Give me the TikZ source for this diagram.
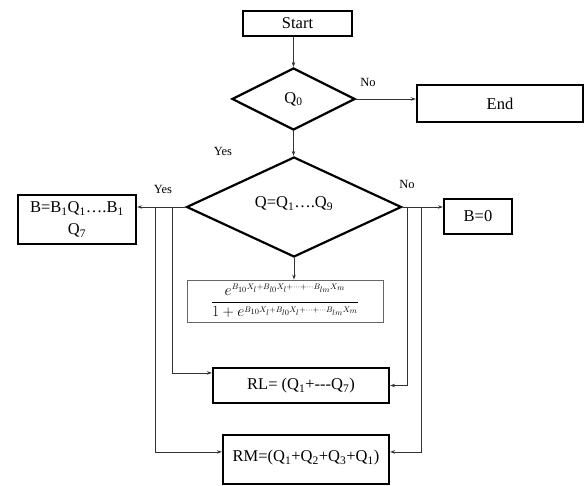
\documentclass[tikz,border=0pt]{standalone}
\usepackage{fontspec}
\usepackage{amsmath}
\setmainfont{Liberation Serif}
\usetikzlibrary{shapes.geometric,arrows.meta}
\newcommand{\ix}[1]{\textsubscript{#1}}
\newcommand{\lexp}{\scriptscriptstyle B_{10}X_l+B_{l0}X_l+\dots+\cdots B_{lm}X_m}
\begin{document}
\begin{tikzpicture}[x=1pt,y=-1pt,
  box/.style={draw=black, line width=2.2pt, inner sep=0pt,
    font=\fontsize{16.5}{21}\selectfont},
  decision/.style={diamond, draw=black, line width=2.2pt, inner sep=0pt,
    font=\fontsize{16.5}{21}\selectfont},
  conn/.style={draw=black!80, line width=0.8pt},
  arr/.style={conn, -{Stealth[length=5pt,width=3.5pt]}},
  lbl/.style={font=\fontsize{12.5}{15}\selectfont, inner sep=0pt}]
\useasboundingbox (0,0) rectangle (585,486);

% boxes
\node[box, minimum width=109pt, minimum height=25pt] (start) at (297.5,23.5) {Start};
\node[box, minimum width=166pt, minimum height=37pt] (end) at (500,103.5) {End};
\node[box, minimum width=118pt, minimum height=49pt, align=center] (bset) at (77,219.5)
  {B=B\ix{1}Q\ix{1}….B\ix{1}\\[1pt]Q\ix{7}};
\node[box, minimum width=68pt, minimum height=35pt] (bzero) at (478,216.5) {B=0};
\node[draw=black!60, line width=0.8pt, inner sep=0pt, minimum width=196pt, minimum height=42pt] (logit) at (285,301)
  {\resizebox{148pt}{!}{\fontsize{18}{20}\selectfont$\dfrac{e^{\lexp}}{1+e^{\lexp}}$}};
\node[box, minimum width=176pt, minimum height=35pt] (rl) at (301,385.5) {RL= (Q\ix{1}+-{}-{}-Q\ix{7})};
\node[box, minimum width=166pt, minimum height=49pt] (rm) at (306,459.5)
  {\raisebox{7pt}{RM=(Q\ix{1}+Q\ix{2}+Q\ix{3}+Q\ix{1})}};

% decisions
\node[decision, minimum width=123pt, minimum height=62pt] (q0) at (293.5,99) {Q\ix{0}};
\node[decision, minimum width=215pt, minimum height=100pt] (qq) at (294,207)
  {\raisebox{10pt}{Q=Q\ix{1}….Q\ix{9}}};

% branch points on the side lines
\coordinate (jl1) at (172,207);
\coordinate (jl2) at (155,207);
\coordinate (jr1) at (407,207);
\coordinate (jr2) at (421,207);

% connectors
\draw[arr] (q0.north |- start.south) -- (q0.north);
\draw[arr] (q0.east) -- (end.west |- q0.east);
\draw[arr] (q0.south) -- (q0.south |- qq.north);
\draw[arr] (qq.west) -- (qq.west -| bset.east);
\draw[arr] (qq.east) -- (qq.east -| bzero.west);
\draw[arr] (qq.south) -- (qq.south |- logit.north);
\draw[arr] (jl1) |- ([yshift=-6pt]rl.north west);
\draw[arr] (jr1) |- (rl.east);
\draw[arr] (jl2) |- ([yshift=-18pt]rm.north west);
\draw[arr] (jr2) |- ([yshift=-18pt]rm.north east);

% branch labels
\node[lbl] (no0) at (368,82) {No};
\node[lbl] (yes0) at (223,151) {Yes};
\node[lbl] (yes1) at (163,189) {Yes};
\node[lbl] (no1) at (407,184) {No};
\end{tikzpicture}
\end{document}
